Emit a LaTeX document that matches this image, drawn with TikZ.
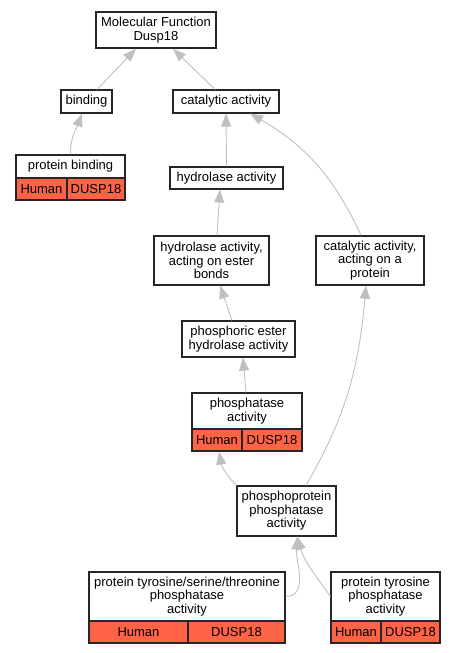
\documentclass[tikz,border=0pt]{standalone}
\usepackage{fontspec}
\setmainfont{Liberation Sans}
\usetikzlibrary{arrows.meta}
\definecolor{cellred}{HTML}{FF6347}
\definecolor{edgegray}{HTML}{C0C0C0}
\tikzset{
  term/.style={draw=black!85, line width=1.1pt, fill=white, align=center, inner sep=0pt,
    font=\fontsize{13}{13.5}\selectfont},
  cell/.style={term, fill=cellred},
  isa/.style={draw=edgegray, line width=0.9pt, -{Triangle[length=13pt,width=10pt]}},
}
\begin{document}
\begin{tikzpicture}[x=1pt,y=1pt]
\useasboundingbox (0,0) rectangle (456,-653);
\node[term, minimum width=120pt, minimum height=36pt, line width=1.6pt] (mf) at (156,-30) {Molecular Function\\Dusp18};
\node[term, minimum width=51pt, minimum height=23pt] (bind) at (86.5,-101.5) {binding};
\node[term, minimum width=106pt, minimum height=23pt] (cat) at (226,-101.5) {catalytic activity};
\node[term, minimum width=109pt, minimum height=23pt] (pb) at (70.5,-166.5) {protein binding};
\node[cell, minimum width=51pt, minimum height=22pt] (pbH) at (41.5,-189) {Human};
\node[cell, minimum width=58pt, minimum height=22pt] (pbD) at (96,-189) {DUSP18};
\node[term, minimum width=113pt, minimum height=22pt] (hyd) at (226.5,-178) {hydrolase activity};
\node[term, minimum width=115pt, minimum height=49pt] (hyde) at (211.5,-260.5) {hydrolase activity,\\acting on ester\\bonds};
\node[term, minimum width=108pt, minimum height=49pt, line width=1.4pt] (catp) at (370,-260.5) {catalytic activity,\\acting on a\\protein};
\node[term, minimum width=113pt, minimum height=36pt] (phe) at (238.5,-339) {phosphoric ester\\hydrolase activity};
\node[term, minimum width=110pt, minimum height=36pt] (pha) at (247,-411) {phosphatase\\activity};
\node[cell, minimum width=50pt, minimum height=22pt] (phaH) at (217,-440) {Human};
\node[cell, minimum width=60pt, minimum height=22pt] (phaD) at (272,-440) {DUSP18};
\node[term, minimum width=99pt, minimum height=50pt] (ppp) at (286.5,-511) {phosphoprotein\\phosphatase\\activity};
\node[term, minimum width=196pt, minimum height=49pt] (pts) at (187,-596.5) {protein tyrosine/serine/threonine\\phosphatase\\activity};
\node[cell, minimum width=99pt, minimum height=22pt] (ptsH) at (138.5,-632) {Human};
\node[cell, minimum width=97pt, minimum height=22pt] (ptsD) at (236.5,-632) {DUSP18};
\node[term, minimum width=109pt, minimum height=49pt] (ptp) at (385.5,-596.5) {protein tyrosine\\phosphatase\\activity};
\node[cell, minimum width=50pt, minimum height=22pt] (ptpH) at (356,-632) {Human};
\node[cell, minimum width=59pt, minimum height=22pt] (ptpD) at (410.5,-632) {DUSP18};

\draw[isa] ([xshift=10.5pt]bind.north) -- ([xshift=-20pt]mf.south);
\draw[isa] ([xshift=-11pt]cat.north) -- ([xshift=17pt]mf.south);
\draw[isa] (pb.north) to[out=92,in=-110] ([xshift=-4.5pt]bind.south);
\draw[isa] (hyd.north) -- (cat.south);
\draw[isa] ([xshift=-9pt]catp.north) to[out=115,in=-30] ([xshift=24pt]cat.south);
\draw[isa] ([xshift=5.5pt]hyde.north) -- ([xshift=-6.5pt]hyd.south);
\draw[isa] ([xshift=-6.5pt]phe.north) -- ([xshift=8.5pt]hyde.south);
\draw[isa] ([xshift=-1pt]pha.north) -- ([xshift=4.5pt]phe.south);
\draw[isa] (ppp.north west) to[out=135,in=-80] ([xshift=2pt]phaH.south);
\draw[isa] ([xshift=19.5pt]ppp.north) to[out=60,in=-95] ([xshift=-4pt]catp.south);
\draw[isa] (pts.east) to[out=0,in=-95] ([xshift=11pt]ppp.south);
\draw[isa] (ptp.west) to[out=125,in=-75] ([xshift=11pt]ppp.south);
\end{tikzpicture}
\end{document}
